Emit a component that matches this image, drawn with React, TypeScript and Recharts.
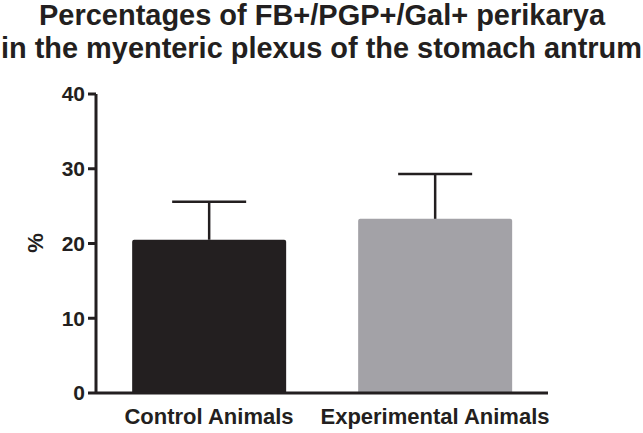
import React from "react";
import { BarChart, Bar, XAxis, YAxis, Cell } from "recharts";

const categories = ["Control Animals", "Experimental Animals"];
const means = [20.5, 23.3];
const errors = [5.1, 6.0];
const barColors = ["#231f20", "#a3a2a7"];
const yTicks = [0, 10, 20, 30, 40];

const titleLines = [
  "Percentages of FB+/PGP+/Gal+ perikarya",
  "in the myenteric plexus of the stomach antrum",
];

const ink = "#231f20";
const font = "'Liberation Sans', Arial, Helvetica, sans-serif";

const chartData = categories.map((name, i) => ({
  name,
  mean: means[i],
  err: errors[i],
}));

// bar + upward-only error bar, using the bar's own scale (height / value)
const BarWithError = (props: any) => {
  const { x, y, width, height, fill, payload } = props;
  const r = 2;
  const pxPerUnit = height / payload.mean;
  const errTop = y - payload.err * pxPerUnit;
  const cx = x + width / 2;
  const capHalf = 37;
  const d = `M${x},${y + height} L${x},${y + r} Q${x},${y} ${x + r},${y} L${x + width - r},${y} Q${x + width},${y} ${x + width},${y + r} L${x + width},${y + height} Z`;
  return (
    <g>
      <path d={d} fill={fill} />
      <line x1={cx} y1={y} x2={cx} y2={errTop} stroke={ink} strokeWidth={2.5} />
      <line x1={cx - capHalf} y1={errTop} x2={cx + capHalf} y2={errTop} stroke={ink} strokeWidth={2.5} />
    </g>
  );
};

const App = () => {
  return (
    <div style={{ position: "absolute", left: 0, top: 0, width: 643, height: 433, background: "#fff" }}>
      <BarChart
        width={643}
        height={433}
        data={chartData}
        margin={{ top: 94, right: 95, bottom: 0, left: 0 }}
        barCategoryGap="16%"
      >
        <YAxis
          domain={[0, 40]}
          ticks={yTicks}
          width={96}
          axisLine={{ stroke: ink, strokeWidth: 3 }}
          tickLine={{ stroke: ink, strokeWidth: 3 }}
          tickSize={8}
          tickMargin={3}
          tick={{ fill: ink, fontSize: 21, fontWeight: 700, fontFamily: font }}
          interval={0}
        />
        <XAxis
          dataKey="name"
          height={40}
          axisLine={{ stroke: ink, strokeWidth: 3 }}
          tickLine={false}
          tickSize={8}
          tickMargin={7}
          tick={{ fill: ink, fontSize: 22, fontWeight: 700, fontFamily: font }}
          interval={0}
        />
        <Bar dataKey="mean" isAnimationActive={false} shape={BarWithError}>
          {chartData.map((d, i) => (
            <Cell key={d.name} fill={barColors[i]} />
          ))}
        </Bar>
      </BarChart>
      <svg
        width={643}
        height={433}
        style={{ position: "absolute", left: 0, top: 0, pointerEvents: "none" }}
      >
        <text
          x={39}
          y={25}
          textLength={566}
          lengthAdjust="spacingAndGlyphs"
          fill={ink}
          fontFamily={font}
          fontWeight={700}
          fontSize={29}
        >
          {titleLines[0]}
        </text>
        <text
          x={1}
          y={58}
          textLength={641}
          lengthAdjust="spacingAndGlyphs"
          fill={ink}
          fontFamily={font}
          fontWeight={700}
          fontSize={29}
        >
          {titleLines[1]}
        </text>
        <text
          x={35}
          y={243}
          transform="rotate(-90 35 243)"
          textAnchor="middle"
          dominantBaseline="central"
          fill={ink}
          fontFamily={font}
          fontWeight={700}
          fontSize={22}
        >
          %
        </text>
      </svg>
    </div>
  );
};

export default App;
